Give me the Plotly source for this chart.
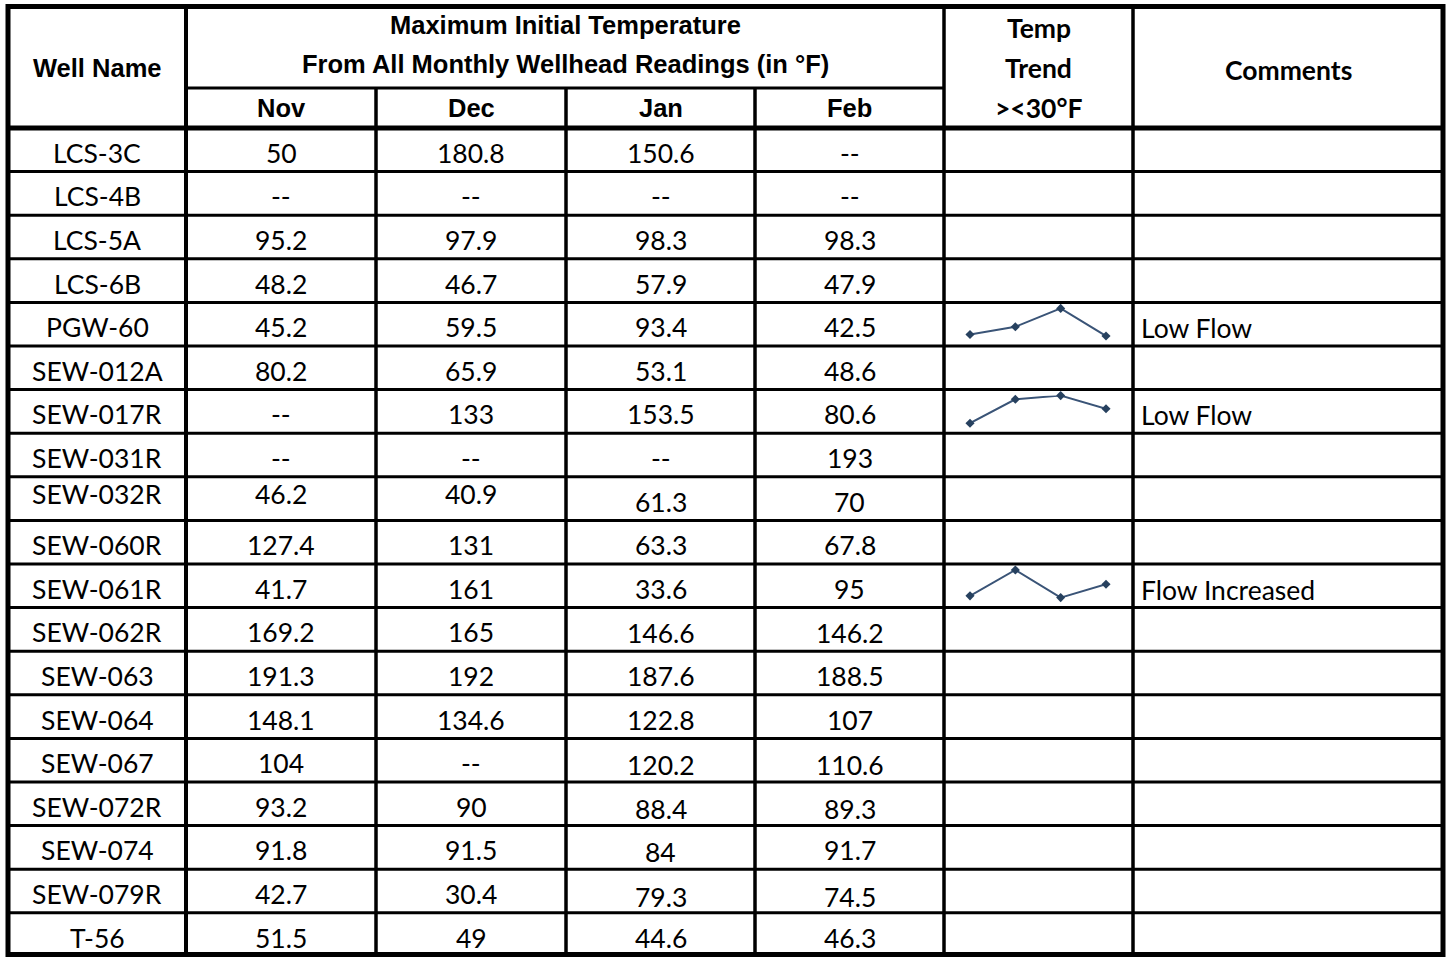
import plotly.graph_objects as go

# ---------------- data ----------------
wells = ["LCS-3C", "LCS-4B", "LCS-5A", "LCS-6B", "PGW-60", "SEW-012A", "SEW-017R",
         "SEW-031R", "SEW-032R", "SEW-060R", "SEW-061R", "SEW-062R", "SEW-063",
         "SEW-064", "SEW-067", "SEW-072R", "SEW-074", "SEW-079R", "T-56"]
months = ["Nov", "Dec", "Jan", "Feb"]
nov = [50, None, 95.2, 48.2, 45.2, 80.2, None, None, 46.2, 127.4, 41.7, 169.2, 191.3,
       148.1, 104, 93.2, 91.8, 42.7, 51.5]
dec = [180.8, None, 97.9, 46.7, 59.5, 65.9, 133, None, 40.9, 131, 161, 165, 192,
       134.6, None, 90, 91.5, 30.4, 49]
jan = [150.6, None, 98.3, 57.9, 93.4, 53.1, 153.5, None, 61.3, 63.3, 33.6, 146.6, 187.6,
       122.8, 120.2, 88.4, 84, 79.3, 44.6]
feb = [None, None, 98.3, 47.9, 42.5, 48.6, 80.6, 193, 70, 67.8, 95, 146.2, 188.5,
       107, 110.6, 89.3, 91.7, 74.5, 46.3]
trend_wells = ["PGW-60", "SEW-017R", "SEW-061R"]
comments = {"PGW-60": "Low Flow", "SEW-017R": "Low Flow", "SEW-061R": "Flow Increased"}

header_title = ["Maximum Initial Temperature", "From All Monthly Wellhead Readings (in °F)"]
trend_header = ["Temp", "Trend", "><30°F"]

# ---------------- layout constants (page pixels) ----------------
W, H = 1448, 957
col_edges = [8, 186, 376, 566, 755, 944, 1133, 1443]
top_y, sub_y, head_y = 6.5, 88, 128
row_h = 43.6
bottom_y = 954.5
# small vertical nudges of individual cells (column -1 = well name)
cell_nudge = {("SEW-032R", -1): -8, ("SEW-032R", 0): -8, ("SEW-032R", 1): -8,
              ("SEW-072R", 2): 2, ("SEW-072R", 3): 2,
              ("SEW-074", 2): 2, ("SEW-079R", 2): 3, ("SEW-079R", 3): 3,
              ("SEW-067", 2): 2, ("SEW-067", 3): 2, ("SEW-062R", 2): 1, ("SEW-062R", 3): 1}

HEAD_FONT = dict(family="Liberation Sans, Arial", size=25.5, color="black")
CAL_BOLD = dict(family="Lato", size=26.5, color="black", weight="bold")
CELL_FONT = dict(family="Lato", size=26.5, color="black")
SPARK_LINE = "#3A5477"
SPARK_MARK = "#27415F"

fig = go.Figure()
shapes = []
annotations = []


def hline(y, x0, x1, w):
    shapes.append(dict(type="line", xref="x", yref="y", x0=x0, x1=x1, y0=y, y1=y,
                       line=dict(color="black", width=w)))


def vline(x, y0, y1, w):
    shapes.append(dict(type="line", xref="x", yref="y", x0=x, x1=x, y0=y0, y1=y1,
                       line=dict(color="black", width=w)))


def text(x, y, s, font, xanchor="center"):
    annotations.append(dict(xref="x", yref="y", x=x, y=y, text=s, showarrow=False,
                            font=font, xanchor=xanchor, yanchor="middle"))


n = len(wells)
row_tops = [head_y + i * row_h for i in range(n)]

# grid lines
for i in range(1, n):
    hline(row_tops[i], col_edges[0], col_edges[-1], 3)
hline(sub_y, col_edges[1], col_edges[5], 3)
hline(head_y, col_edges[0], col_edges[-1], 5)
vline(col_edges[1], top_y, bottom_y, 4)
for c in (2, 3, 4):
    vline(col_edges[c], sub_y, bottom_y, 3.5)
vline(col_edges[5], top_y, bottom_y, 3.5)
vline(col_edges[6], top_y, bottom_y, 3.5)
# outer border
shapes.append(dict(type="rect", xref="x", yref="y", x0=col_edges[0], x1=col_edges[-1],
                   y0=top_y, y1=bottom_y, line=dict(color="black", width=5)))


def ccx(c):
    return (col_edges[c] + col_edges[c + 1]) / 2


# header texts
text(ccx(0), 68, "<b>Well Name</b>", HEAD_FONT)
text((col_edges[1] + col_edges[5]) / 2, 25, "<b>%s</b>" % header_title[0], HEAD_FONT)
text((col_edges[1] + col_edges[5]) / 2, 64, "<b>%s</b>" % header_title[1], HEAD_FONT)
for k, m in enumerate(months):
    text(ccx(1 + k), 108, "<b>%s</b>" % m, HEAD_FONT)
for k, s in enumerate(trend_header):
    text(ccx(5), 28 + 40 * k, "<b>%s</b>" % s, CAL_BOLD)
text(ccx(6), 70, "<b>Comments</b>", CAL_BOLD)


def fmt(v):
    return "--" if v is None else f"{v:g}"


series = [nov, dec, jan, feb]
for i, wname in enumerate(wells):
    cy = row_tops[i] + row_h / 2 + 3
    text(ccx(0), cy + cell_nudge.get((wname, -1), 0), wname, CELL_FONT)
    for k in range(4):
        text(ccx(1 + k), cy + cell_nudge.get((wname, k), 0), fmt(series[k][i]), CELL_FONT)
    if wname in comments:
        text(col_edges[6] + 6, cy + 1, comments[wname], CELL_FONT, xanchor="left")

# sparklines
spark_x0, spark_x1 = 970, 1106
layout_axes = {}
for j, wname in enumerate(trend_wells):
    i = wells.index(wname)
    vals = [0 if s[i] is None else s[i] for s in series]
    ax = j + 2
    ytop = row_tops[i] + 6
    ybot = row_tops[i] + row_h - 10
    fig.add_trace(go.Scatter(x=list(range(4)), y=vals, mode="lines+markers",
                             xaxis="x%d" % ax, yaxis="y%d" % ax,
                             line=dict(color=SPARK_LINE, width=2),
                             marker=dict(symbol="diamond", size=7, color=SPARK_MARK),
                             cliponaxis=False, showlegend=False, hoverinfo="skip"))
    layout_axes["xaxis%d" % ax] = dict(domain=[spark_x0 / W, spark_x1 / W],
                                       range=[0, 3], visible=False, anchor="y%d" % ax)
    layout_axes["yaxis%d" % ax] = dict(domain=[1 - ybot / H, 1 - ytop / H],
                                       range=[min(vals), max(vals)], visible=False,
                                       anchor="x%d" % ax)

fig.update_layout(
    width=W, height=H, margin=dict(l=0, r=0, t=0, b=0),
    paper_bgcolor="white", plot_bgcolor="rgba(0,0,0,0)",
    xaxis=dict(range=[0, W], visible=False, domain=[0, 1]),
    yaxis=dict(range=[H, 0], visible=False, domain=[0, 1]),
    shapes=shapes, annotations=annotations, showlegend=False,
    hovermode=False,
    **layout_axes,
)

fig.write_html("out.html", config={"displayModeBar": False, "staticPlot": True},
               post_script="document.body.style.margin='0';"
                           "document.body.style.overflow='hidden';")
